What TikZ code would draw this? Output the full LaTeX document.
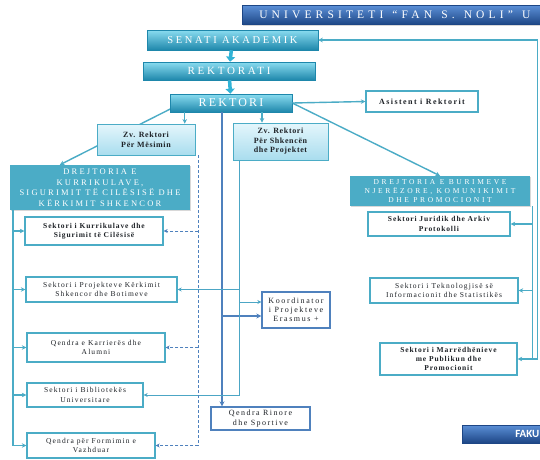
\documentclass[tikz,border=0pt]{standalone}
\usepackage{fontspec}
\setmainfont{Liberation Serif}
\newfontfamily\calfont{Carlito}
\newfontfamily\titlefont[LetterSpace=36,WordSpace=1.3]{Liberation Serif}
\usepackage{tikz}
\usetikzlibrary{positioning,arrows.meta,calc,backgrounds,shadows}
\definecolor{ink}{HTML}{1E2227}
\definecolor{cTeal}{HTML}{4BACC6}
\definecolor{cTealL}{HTML}{8ADCF0}
\definecolor{cTealM}{HTML}{31B3D6}
\definecolor{cTealD}{HTML}{1E87AB}
\definecolor{cSky}{HTML}{E4F6FC}
\definecolor{cSkyD}{HTML}{A9DDEE}
\definecolor{cBlue}{HTML}{4F81BD}
\definecolor{cNavyL}{HTML}{5B8FD6}
\definecolor{cNavy}{HTML}{2A5CA8}
\definecolor{cNavyD}{HTML}{1D4685}
\newcommand\trk[1]{\addfontfeatures{LetterSpace=#1}}
\newcommand\fsz[2]{\fontsize{#1}{#2}\selectfont}
\tikzset{
  box/.style  = {align=center, inner sep=0pt, text=ink},
  shd/.style  = {drop shadow={opacity=0.3, shadow xshift=1.2pt, shadow yshift=-1.2pt}},
  hdr/.style  = {box, shd, draw=cTealD, line width=0.5pt, top color=cTealL, middle color=cTealM,
                 bottom color=cTealD, text=white},
  nav/.style  = {box, shd, draw=cNavyD, line width=0.5pt, top color=cNavyL, middle color=cNavy,
                 bottom color=cNavyD, text=white},
  vic/.style  = {box, draw=cTeal, line width=0.8pt, top color=cSky, bottom color=cSkyD,
                 font=\bfseries\fsz{8}{10}\trk{8}},
  dir/.style  = {box, shd, fill=cTeal, text=white},
  sec/.style  = {box, fill=white, draw=cTeal, line width=1.3pt, font=\fsz{7.5}{9.5}\trk{15}},
  secb/.style = {sec, font=\bfseries\fsz{7.5}{9.5}\trk{12}},
  sek/.style  = {sec, draw=cBlue},
  ln/.style   = {-{Stealth[length=4.5pt,width=4.5pt]}, line width=1.4pt, draw=cTeal},
  fat/.style  = {-{Triangle[length=5pt,width=9pt]}, line width=3.5pt, draw=cTealM},
  spine/.style= {-{Stealth[length=5pt,width=5pt]}, line width=2.6pt, draw=cBlue},
  thn/.style  = {-{Stealth[length=4pt,width=4pt]}, line width=0.9pt, draw=cTeal!85!cBlue},
  dsh/.style  = {-{Stealth[length=4pt,width=4pt]}, line width=0.8pt, draw=cBlue, dash pattern=on 3pt off 2pt},
}

\begin{document}
\begin{tikzpicture}[x=1pt, y=-1pt]
  \useasboundingbox (0,0) rectangle (540,459);
  \clip (0,0) rectangle (540,459);

  % top of the chart
  \node[nav, anchor=west, minimum height=19, inner xsep=17,
        font=\titlefont\fsz{11.5}{12}] (uni) at (242,15) {UNIVERSITETI “FAN S. NOLI” U};
  \node[hdr, minimum width=171, minimum height=20, font=\fsz{10.5}{11}\trk{25}] (senati) at (232.5,40) {SENATI AKADEMIK};
  \node[hdr, minimum width=172, minimum height=18, font=\fsz{11}{11}\trk{25}] (rektorati) at (229,71) {REKTORATI};
  \node[hdr, minimum width=122, minimum height=18, font=\fsz{12}{12}\trk{18}] (rektori) at (231,103) {REKTORI};
  \node[sec, minimum width=112, minimum height=21, font=\bfseries\fsz{8}{9}\trk{18}] (asist) at (422,101.5) {Asistent i Rektorit};

  \node[vic, minimum width=98, minimum height=31] (zvm) at (146,139.5) {Zv. Rektori\\Për Mësimin};
  \node[vic, minimum width=95, minimum height=37, font=\bfseries\fsz{8}{9.5}\trk{8}] (zvs) at (280.5,141.5) {Zv. Rektori\\Për Shkencën\\dhe Projektet};

  \node[dir, minimum width=180, minimum height=45, font=\fsz{8.5}{10.5}\trk{26}] (dkur) at (100,187.5)
    {DREJTORIA E\\KURRIKULAVE,\\SIGURIMIT TË CILËSISË DHE\\KËRKIMIT SHKENCOR};
  \node[dir, minimum width=180, minimum height=30, font=\fsz{7.5}{8.8}\trk{35}] (dbur) at (440,191)
    {DREJTORIA E BURIMEVE\\NJERËZORE, KOMUNIKIMIT\\DHE PROMOCIONIT};

  % left column
  \node[secb, minimum width=138, minimum height=28] (kurr) at (94,231) {Sektori i Kurrikulave dhe\\Sigurimit të Cilësisë};
  \node[sec, minimum width=151, minimum height=25] (proj) at (101.5,289.5) {Sektori i Projekteve Kërkimit\\Shkencor dhe Botimeve};
  \node[sec, minimum width=138, minimum height=29] (karr) at (96,347.5) {Qendra e Karrierës dhe\\Alumni};
  \node[sec, minimum width=116, minimum height=24] (bibl) at (85,395) {Sektori i Bibliotekës\\Universitare};
  \node[sec, minimum width=128, minimum height=25] (form) at (91,445.5) {Qendra për Formimin e\\Vazhduar};

  % middle
  \node[sek, minimum width=68, minimum height=36, font=\fsz{8}{9}\trk{20}] (koord) at (296,310) {Koordinator\\i Projekteve\\Erasmus +};
  \node[sek, minimum width=99, minimum height=23, font=\fsz{8}{9.5}\trk{18}] (rinor) at (260.5,418.5) {Qendra Rinore\\dhe Sportive};

  % right column
  \node[secb, minimum width=142, minimum height=24] (jur) at (439,224) {Sektori Juridik dhe Arkiv\\Protokolli};
  \node[sec, minimum width=148, minimum height=25] (tek) at (444,290.5) {Sektori i Teknologjisë së\\Informacionit dhe Statistikës};
  \node[secb, minimum width=137, minimum height=32, font=\bfseries\fsz{7.5}{9}\trk{12}] (marr) at (448.5,359) {Sektori i Marrëdhënieve\\me Publikun dhe\\Promocionit};
  \node[nav, anchor=west, minimum height=18, inner xsep=53,
        font=\calfont\bfseries\fsz{11}{11}] (faku) at (462,434) {FAKU};

  % spines
  \coordinate (rz1) at ($(rektori.south west)+(15,0)$);
  \coordinate (rz2) at ($(rektori.south)+(31,0)$);
  \coordinate (rz3) at ($(rektori.south)+(-9,0)$);
  \coordinate (sp)  at ($(zvs.south west)+(7,0)$);
  \coordinate (dsp) at ($(zvm.south east)+(3,0)$);
  \coordinate (lsp) at ($(dkur.south west)+(3,0)$);
  \coordinate (rsp) at ($(dbur.south east)+(2,0)$);
  \coordinate (osp) at ($(marr.east)+(20,0)$);
  \coordinate (kt)  at ($(koord.west)+(0,-8)$);
  \coordinate (kb)  at ($(koord.west)+(0,6)$);

  \draw[fat] (senati) -- (rektorati);
  \draw[fat] (rektorati) -- (rektori);
  \draw[ln] (rektori.east) -- (asist.west);
  \draw[ln] (rz1) -- (rz1 |- zvm.north);
  \draw[ln] (rz2) -- (rz2 |- zvs.north);

  \draw[spine] (rz3) -- (rz3 |- rinor.north);
  \draw[spine] (rz3 |- kb) -- (kb);

  \draw[thn] (sp) |- (bibl.east);
  \draw[thn] (sp |- proj.east) -- (proj.east);
  \draw[thn] (sp |- kt) -- (kt);

  \draw[dsh, -] (dsp) -- (dsp |- form.east);
  \foreach \n in {kurr,karr,form}
    \draw[dsh] (dsp |- \n.east) -- (\n.east);

  \draw[ln] (lsp) |- (form.west);
  \foreach \n in {kurr,proj,karr,bibl}
    \draw[ln] (lsp |- \n.west) -- (\n.west);

  \draw[ln] (osp) |- (senati.east);
  \draw[ln] (osp) -- (marr.east);
  \draw[ln, -] (rsp) -- (rsp |- osp) -- (osp);
  \foreach \n in {jur,tek}
    \draw[ln] (rsp |- \n.east) -- (\n.east);

  \begin{scope}[on background layer]
    \fill[white] (0,0) rectangle (540,459);
    \draw[ln] ($(rektori.south west)+(2,-4)$) -- ($(dkur.north west)+(50,0)$);
    \draw[ln] (rektori.east) -- (dbur.north);
  \end{scope}
\end{tikzpicture}
\end{document}
